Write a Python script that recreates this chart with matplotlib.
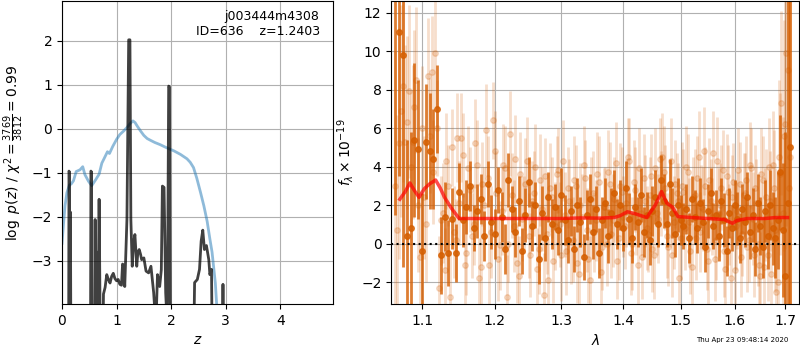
import matplotlib
matplotlib.use('Agg')
import numpy as np
from matplotlib import pyplot as plt
from matplotlib.ticker import FixedLocator, FixedFormatter, NullLocator

# --- redshift panel ---
z_pdf = [0.0, 0.12, 0.128, 0.135, 0.145, 0.155, 0.165, 0.52, 0.53, 0.54, 0.555, 0.60, 0.607,
         0.615, 0.628, 0.64, 0.65, 0.665, 0.68, 0.69, 0.70, 0.74, 0.76, 0.79, 0.82, 0.85, 0.88,
         0.91, 0.94, 0.97, 1.0, 1.03, 1.06, 1.09, 1.11, 1.13, 1.15, 1.19, 1.222, 1.245, 1.262,
         1.287, 1.31, 1.336, 1.37, 1.39, 1.415, 1.44, 1.46, 1.5, 1.54, 1.587, 1.63, 1.68, 1.72,
         1.75, 1.79, 1.82, 1.84, 1.87, 1.9, 1.93, 1.955, 1.97, 1.99, 2.4, 2.43, 2.48, 2.52, 2.55,
         2.58, 2.61, 2.647, 2.69, 2.71, 2.74, 2.76, 2.94, 2.95, 2.96, 4.97]
logp = [-6, -6, -0.96, -0.98, -6, -1.89, -6, -6, -0.96, -0.98, -6, -6, -2.06,
        -3.76, -3.6, -2.8, -4.5, -3.8, -1.6, -3.0, -4.5, -6, -3.75, -3.6, -3.31, -3.42, -3.5,
        -3.35, -3.28, -3.4, -3.45, -3.42, -3.53, -3.55, -3.07, -3.1, -3.58, -2.06, 2.02, 2.02, -2.06,
        -3.12, -2.6, -2.4, -3.12, -2.8, -2.74, -2.85, -2.97, -2.93, -3.23, -3.27, -3.12, -3.72, -4.5,
        -3.31, -3.58, -3.2, -1.3, -1.33, -3.72, -4.5, 0.97, 0.95, -6, -6, -3.49, -3.42, -3.19, -2.55,
        -2.3, -2.74, -2.65, -2.97, -3.31, -3.19, -6, -6, -3.53, -6, -6]

z_prior = [0.0, 0.025, 0.055, 0.09, 0.135, 0.17, 0.21, 0.26, 0.33, 0.38, 0.42, 0.485, 0.545,
           0.62, 0.68, 0.73, 0.77, 0.833, 0.87, 0.93, 1.0, 1.06, 1.13, 1.19, 1.25, 1.30, 1.34,
           1.38, 1.44, 1.5, 1.56, 1.62, 1.7, 1.8, 1.9, 2.05, 2.17, 2.29, 2.35, 2.41, 2.47, 2.54,
           2.6, 2.66, 2.71, 2.75, 2.78, 2.81, 2.84]
prior = [-2.6, -2.2, -1.75, -1.45, -1.28, -1.25, -1.18, -0.97, -0.93, -0.86, -1.04, -1.19, -1.29,
         -1.15, -1.03, -0.78, -0.68, -0.52, -0.56, -0.4, -0.24, -0.13, -0.05, 0.03, 0.12, 0.18, 0.14,
         0.06, -0.05, -0.15, -0.22, -0.26, -0.31, -0.36, -0.42, -0.5, -0.58, -0.68, -0.76, -0.88, -1.12, -1.45,
         -1.75, -2.1, -2.5, -2.8, -3.15, -3.5, -4.1]

# --- spectrum panel: bright beam on grid a, faint beams on grids a and b ---
lam_a = [1.065, 1.070, 1.075, 1.080, 1.085, 1.090, 1.095, 1.100, 1.105, 1.110,
         1.115, 1.120, 1.125, 1.130, 1.135, 1.140, 1.145, 1.150, 1.155, 1.160,
         1.165, 1.170, 1.175, 1.180, 1.185, 1.190, 1.195, 1.200, 1.205, 1.210,
         1.215, 1.220, 1.225, 1.230, 1.235, 1.240, 1.245, 1.250, 1.255, 1.260,
         1.265, 1.270, 1.275, 1.280, 1.285, 1.290, 1.295, 1.300, 1.305, 1.310,
         1.315, 1.320, 1.325, 1.330, 1.335, 1.340, 1.345, 1.350, 1.355, 1.360,
         1.365, 1.370, 1.375, 1.380, 1.385, 1.390, 1.395, 1.400, 1.405, 1.410,
         1.415, 1.420, 1.425, 1.430, 1.435, 1.440, 1.445, 1.450, 1.455, 1.460,
         1.465, 1.470, 1.475, 1.480, 1.485, 1.490, 1.495, 1.500, 1.505, 1.510,
         1.515, 1.520, 1.525, 1.530, 1.535, 1.540, 1.545, 1.550, 1.555, 1.560,
         1.565, 1.570, 1.575, 1.580, 1.585, 1.590, 1.595, 1.600, 1.605, 1.610,
         1.615, 1.620, 1.625, 1.630, 1.635, 1.640, 1.645, 1.650, 1.655, 1.660,
         1.665, 1.670, 1.675, 1.680, 1.685, 1.690, 1.695, 1.700, 1.705, 1.710]
flux_a = [13.5, 11.0, 9.8, 0.4, 0.8, 5.4, 4.9, -0.4, 5.3, 4.8,
          4.4, 7.0, -0.6, 1.4, -0.5, 1.3, -0.5, 2.7, 1.2, 1.9,
          3.0, 0.8, 1.7, 2.3, 0.4, 3.1, 1.1, 0.5, 2.8, 1.4,
          -0.3, 3.3, 1.8, 0.6, 2.2, -0.4, 1.5, 3.2, 0.9, 2.0,
          -0.8, 1.6, 0.3, 2.4, 1.0, 1.9, 0.7, 2.5, 1.2, 0.2,
          1.7, -0.3, 2.0, 1.1, -0.7, 1.5, 2.3, 0.6, 1.8, -0.5,
          1.2, 2.1, 0.4, 1.6, 2.6, 1.0, 2.0, 0.8, 2.9, 1.3,
          0.3, 1.9, 1.1, 2.5, 0.6, 1.5, 0.2, 1.7, 2.4, 1.0,
          3.3, 2.2, 1.0, 3.1, 1.6, 0.5, 2.0, 1.2, 0.9, 1.8,
          0.3, 2.3, 1.4, 0.8, 2.1, 1.1, -0.2, 1.7, 2.6, 0.9,
          1.5, 0.4, 2.2, 1.2, -0.4, 1.6, 0.8, 2.0, 1.3, 0.3,
          1.8, 1.1, 2.4, 0.6, 1.5, -0.3, 2.1, 0.9, -0.2, 1.7,
          0.4, 2.0, 0.8, 0.3, 1.2, 3.7, 0.7, -1.7, 2.1, 5.0]
err_a = [12.0, 7.5, 11.0, 5.0, 5.0, 4.0, 3.6, 3.0, 3.0, 3.0,
         2.6, 2.3, 2.0, 1.8, 1.7, 1.6, 1.5, 1.5, 1.4, 1.4,
         1.3, 1.2, 1.4, 1.3, 1.3, 1.2, 1.4, 1.3, 1.2, 1.3,
         1.3, 1.4, 1.2, 1.3, 1.3, 1.2, 1.4, 1.3, 1.3, 1.2,
         1.3, 1.4, 1.2, 1.3, 1.3, 1.2, 1.3, 1.4, 1.3, 1.2,
         1.3, 1.2, 1.4, 1.3, 1.2, 1.3, 1.3, 1.4, 1.2, 1.3,
         1.2, 1.3, 1.4, 1.3, 1.2, 1.3, 1.3, 1.2, 1.4, 1.3,
         1.3, 1.2, 1.3, 1.4, 1.3, 1.2, 1.3, 1.3, 1.4, 1.2,
         1.3, 1.4, 1.2, 1.3, 1.3, 1.2, 1.4, 1.3, 1.2, 1.3,
         1.3, 1.2, 1.4, 1.3, 1.3, 1.2, 1.3, 1.4, 1.3, 1.2,
         1.3, 1.3, 1.2, 1.4, 1.3, 1.3, 1.2, 1.3, 1.4, 1.3,
         1.3, 1.3, 1.3, 1.4, 1.4, 1.4, 1.5, 1.5, 1.6, 1.6,
         1.7, 1.8, 1.9, 2.1, 2.5, 3.0, 3.5, 7.5, 12.0, 16.0]
flux_d = [3.0, 5.2, 8.2, 6.3, 4.0, 7.1, 2.0, 6.0, 1.0, 5.6,
          3.7, 6.0, 1.2, -1.4, 3.0, 5.0, 0.2, 2.1, 4.6, -0.5,
          2.8, 1.0, 4.1, -1.2, 2.0, 3.4, 0.6, 4.8, -0.8, 1.7,
          3.9, 0.0, 2.5, 4.4, -1.7, 1.3, 3.1, 0.4, 2.2, 4.0,
          -0.3, 1.8, 3.5, -1.9, 2.4, 0.9, 3.8, -0.6, 1.5, 2.9,
          0.1, 3.3, -1.0, 2.0, 4.1, 0.7, -1.9, 2.6, 1.2, 3.2,
          -0.2, 1.9, 3.7, 0.5, 2.3, -0.9, 3.0, 1.4, 2.1, 4.3,
          0.0, 2.8, -1.1, 1.6, 3.4, 0.8, 2.5, -0.3, 3.9, 1.3,
          2.6, 3.7, 0.4, 1.9, -0.6, 3.1, 2.2, 0.3, 2.7, 4.0,
          1.1, -1.2, 2.5, 3.4, 0.6, 1.8, 3.0, -0.9, 2.2, 4.7,
          0.2, 1.6, 2.9, -0.4, 3.5, 1.0, 2.4, -1.4, 1.7, 3.1,
          0.5, 2.6, -0.2, 4.1, 1.3, 2.9, 0.0, -1.7, 3.3, 1.5,
          -0.6, 2.2, 4.1, 0.7, -2.0, 3.6, 1.6, 6.2, 9.0, 4.5]
err_d = [7.0, 6.0, 5.0, 4.5, 4.0, 4.0, 3.5, 3.2, 3.0, 3.0,
         2.7, 2.5, 2.3, 2.2, 2.1, 2.0, 2.1, 2.2, 2.2, 2.2,
         2.2, 2.1, 2.3, 2.2, 2.0, 2.2, 2.4, 2.1, 2.2, 2.3,
         2.2, 2.0, 2.2, 2.3, 2.1, 2.2, 2.4, 2.2, 2.1, 2.2,
         2.3, 2.2, 2.0, 2.2, 2.1, 2.3, 2.2, 2.4, 2.2, 2.1,
         2.2, 2.3, 2.1, 2.2, 2.0, 2.2, 2.3, 2.2, 2.1, 2.4,
         2.2, 2.1, 2.2, 2.3, 2.2, 2.0, 2.2, 2.1, 2.3, 2.2,
         2.4, 2.2, 2.1, 2.2, 2.3, 2.2, 2.0, 2.2, 2.1, 2.3,
         2.2, 2.4, 2.2, 2.1, 2.2, 2.3, 2.0, 2.2, 2.2, 2.1,
         2.3, 2.2, 2.4, 2.2, 2.1, 2.2, 2.0, 2.3, 2.2, 2.2,
         2.1, 2.3, 2.2, 2.4, 2.2, 2.1, 2.2, 2.3, 2.0, 2.2,
         2.2, 2.1, 2.3, 2.2, 2.4, 2.2, 2.2, 2.3, 2.3, 2.4,
         2.4, 2.6, 2.8, 3.2, 3.6, 4.2, 5.0, 6.5, 9.0, 12.0]

lam_b = [1.0675, 1.0725, 1.0775, 1.0825, 1.0875, 1.0925, 1.0975, 1.1025, 1.1075, 1.1125,
         1.1175, 1.1225, 1.1275, 1.1325, 1.1375, 1.1425, 1.1475, 1.1525, 1.1575, 1.1625,
         1.1675, 1.1725, 1.1775, 1.1825, 1.1875, 1.1925, 1.1975, 1.2025, 1.2075, 1.2125,
         1.2175, 1.2225, 1.2275, 1.2325, 1.2375, 1.2425, 1.2475, 1.2525, 1.2575, 1.2625,
         1.2675, 1.2725, 1.2775, 1.2825, 1.2875, 1.2925, 1.2975, 1.3025, 1.3075, 1.3125,
         1.3175, 1.3225, 1.3275, 1.3325, 1.3375, 1.3425, 1.3475, 1.3525, 1.3575, 1.3625,
         1.3675, 1.3725, 1.3775, 1.3825, 1.3875, 1.3925, 1.3975, 1.4025, 1.4075, 1.4125,
         1.4175, 1.4225, 1.4275, 1.4325, 1.4375, 1.4425, 1.4475, 1.4525, 1.4575, 1.4625,
         1.4675, 1.4725, 1.4775, 1.4825, 1.4875, 1.4925, 1.4975, 1.5025, 1.5075, 1.5125,
         1.5175, 1.5225, 1.5275, 1.5325, 1.5375, 1.5425, 1.5475, 1.5525, 1.5575, 1.5625,
         1.5675, 1.5725, 1.5775, 1.5825, 1.5875, 1.5925, 1.5975, 1.6025, 1.6075, 1.6125,
         1.6175, 1.6225, 1.6275, 1.6325, 1.6375, 1.6425, 1.6475, 1.6525, 1.6575, 1.6625,
         1.6675, 1.6725, 1.6775, 1.6825, 1.6875, 1.6925, 1.6975, 1.7025, 1.7075]
flux_b = [0.7, 6.9, 5.3, 7.9, 5.3, 8.5, -0.7, 2.4, 8.7, 8.9,
          9.9, -2.3, 1.6, 4.3, -2.8, 0.6, 5.5, 5.5, -1.1, 3.9,
          0.4, 5.2, -1.8, 3.1, 5.9, -1.1, 6.4, 2.6, -0.1, 4.1,
          -2.8, 5.7, 0.9, -1.0, 3.6, 1.5, 4.3, -0.6, 2.6, -1.3,
          3.3, -2.7, 0.5, 2.9, -0.9, 3.6, 1.0, 4.3, -0.4, 2.2,
          0.2, 3.0, -1.6, 1.4, 3.4, -0.8, 2.3, 0.6, 3.6, -1.5,
          1.9, 0.0, 3.1, 1.2, 4.2, 0.3, 2.7, 0.9, 4.5, -0.5,
          3.2, 1.7, 3.9, -0.7, 2.2, 0.5, 3.5, -0.6, 1.6, 4.4,
          4.5, 2.9, -0.2, 4.3, 1.1, 2.6, -1.8, 3.0, 0.8, 3.7,
          -0.4, 2.4, 0.3, 4.5, 1.9, 4.8, -0.3, 3.3, 1.4, -0.8,
          4.3, 2.0, 3.8, -1.3, 2.7, -1.8, 3.2, 0.9, 3.8, -0.7,
          2.5, 3.3, 0.2, 3.9, -0.6, 2.1, -1.1, 3.6, -1.2, 2.4,
          4.0, -1.6, 2.9, -2.5, 4.5, 7.3, 5.6, 9.9, 2.9]
err_b = [6.0, 5.5, 5.0, 4.5, 4.0, 3.8, 3.5, 3.2, 3.0, 2.9,
         2.8, 2.7, 2.6, 2.5, 2.4, 2.4, 2.3, 2.3, 2.2, 2.2,
         2.2, 2.3, 2.1, 2.2, 2.4, 2.2, 2.0, 2.2, 2.3, 2.1,
         2.2, 2.2, 2.4, 2.1, 2.2, 2.0, 2.3, 2.2, 2.2, 2.1,
         2.4, 2.2, 2.1, 2.3, 2.2, 2.0, 2.2, 2.1, 2.3, 2.2,
         2.2, 2.1, 2.4, 2.2, 2.0, 2.3, 2.2, 2.1, 2.2, 2.3,
         2.0, 2.2, 2.2, 2.4, 2.1, 2.2, 2.3, 2.2, 2.0, 2.2,
         2.2, 2.3, 2.1, 2.2, 2.4, 2.0, 2.2, 2.3, 2.2, 2.1,
         2.3, 2.2, 2.0, 2.2, 2.4, 2.1, 2.2, 2.3, 2.2, 2.0,
         2.2, 2.1, 2.2, 2.4, 2.2, 2.3, 2.1, 2.2, 2.0, 2.2,
         2.3, 2.2, 2.1, 2.2, 2.4, 2.2, 2.0, 2.3, 2.2, 2.1,
         2.2, 2.3, 2.2, 2.1, 2.2, 2.3, 2.3, 2.4, 2.4, 2.5,
         2.5, 2.7, 3.0, 3.4, 4.0, 4.8, 6.0, 9.0, 11.0]

lam_model = [1.071, 1.078, 1.084, 1.090, 1.096, 1.103, 1.110, 1.118, 1.124, 1.130, 1.140,
             1.150, 1.20, 1.30, 1.33, 1.36, 1.385, 1.395, 1.407, 1.42, 1.44, 1.455, 1.466,
             1.475, 1.485, 1.495, 1.52, 1.58, 1.596, 1.605, 1.625, 1.66, 1.68, 1.705]
flux_model = [2.3, 2.7, 3.15, 2.75, 2.4, 2.85, 3.1, 3.3, 2.9, 2.4, 1.8,
              1.3, 1.3, 1.3, 1.33, 1.32, 1.35, 1.45, 1.65, 1.55, 1.35, 2.0, 2.7,
              2.1, 1.9, 1.4, 1.35, 1.25, 1.05, 1.2, 1.3, 1.3, 1.35, 1.35]

lam_ticks = [1.1, 1.2, 1.3, 1.4, 1.5, 1.6, 1.7]

grism_color = (0.8353, 0.3686, 0.0)

fig = plt.figure(figsize=(8, 3.5), dpi=100)
ax = fig.add_axes([0.0775, 0.131, 0.339, 0.866])
ax.plot(z_prior, prior, color='tab:blue', alpha=0.5, lw=2)
ax.plot(z_pdf, logp, color='k', alpha=0.75, lw=2)
ax.text(0.95, 0.97, 'j003444m4308\nID=636    z=1.2403', ha='right', va='top',
        transform=ax.transAxes, fontsize=9)
ax.set_xlim(0, 4.97)
ax.set_ylim(-3.98, 2.9)
ax.set_xticks([0, 1, 2, 3, 4])
ax.set_yticks([-3, -2, -1, 0, 1, 2])
ax.set_xlabel('$z$')
ax.set_ylabel(r'$\log\ p(z)$' + ' / ' + r'$\chi^2=\frac{3769}{3812}=0.99$')
ax.grid()

ax2 = fig.add_axes([0.489, 0.131, 0.51, 0.866])
# faint beams first, bright one on top
for lam, flux, err in [(lam_b, flux_b, err_b), (lam_a, flux_d, err_d)]:
    ax2.errorbar(lam, flux, yerr=err, color=grism_color, alpha=0.2, marker='o', ms=4,
                 linestyle='None', elinewidth=2)
ax2.errorbar(lam_a, flux_a, yerr=err_a, color=grism_color, alpha=0.8, marker='o', ms=4,
             linestyle='None', elinewidth=2)
ax2.plot(lam_model, flux_model, color='r', alpha=0.7, lw=2.5, zorder=5)
ax2.axhline(0, color='k', linestyle=':', lw=1.5, zorder=6)
ax2.set_xscale('log')
ax2.set_xlim(1.06, 1.729)
ax2.set_ylim(-3.15, 12.6)
ax2.xaxis.set_major_locator(FixedLocator(lam_ticks))
ax2.xaxis.set_major_formatter(FixedFormatter(['%.1f' % t for t in lam_ticks]))
ax2.xaxis.set_minor_locator(NullLocator())
ax2.set_yticks([-2, 0, 2, 4, 6, 8, 10, 12])
ax2.set_xlabel(r'$\lambda$')
ax2.set_ylabel(r'$f_\lambda\times10^{-19}$')
ax2.grid()

fig.text(0.985, 0.02, 'Thu Apr 23 09:48:14 2020', ha='right', va='bottom', fontsize=5)

fig.savefig('out.png', dpi=100)
